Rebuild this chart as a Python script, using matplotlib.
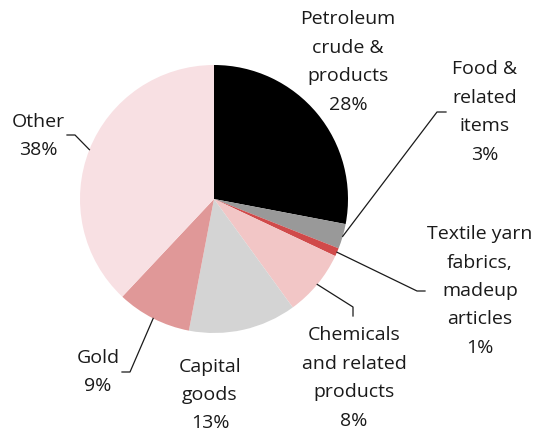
import numpy as np
import matplotlib.pyplot as plt

plt.rcParams['font.family'] = ['Open Sans', 'DejaVu Sans']

labels = ['Petroleum\ncrude &\nproducts\n28%', 'Food &\nrelated\nitems\n3%',
          'Textile yarn\nfabrics,\nmadeup\narticles\n1%',
          'Chemicals\nand related\nproducts\n8%', 'Capital\ngoods\n13%',
          'Gold\n9%', 'Other\n38%']
shares = [28, 3, 1, 8, 13, 9, 38]
colors = ['#000000', '#999999', '#d04a4a', '#f2c6c6', '#d4d4d4', '#e09898', '#f8e0e3']

W, H = 543, 436
cx, cy, r = 214, H - 199, 134

fig = plt.figure(figsize=(W / 100, H / 100), dpi=100)
ax = fig.add_axes([0, 0, 1, 1])

ax.pie(shares, colors=colors, startangle=90, counterclock=False,
       center=(cx, cy), radius=r, frame=True,
       wedgeprops=dict(linewidth=0))
ax.set_xlim(0, W)
ax.set_ylim(0, H)
ax.set_aspect('equal')
ax.axis('off')

# label centres (x, y in pixels from top) and leader elbows
label_pos = [(348, 62), (485, 112), (480, 291), (354, 378), (210, 395), (98, 372), (38, 136)]
elbows = {1: [(437, 112), (446, 112)],
          2: [(417, 291), (425, 291)],
          3: [(353, 307), (353, 316)],
          5: [(130, 372), (122, 372)],
          6: [(75, 135), (67, 135)]}

cum = np.cumsum([0] + shares)
for i, lab in enumerate(labels):
    x, y = label_pos[i]
    ax.text(x, H - y, lab, ha='center', va='center', fontsize=14,
            linespacing=1.75, color='#1a1a1a')
    if i in elbows:
        mid = np.deg2rad(90 - 3.6 * (cum[i] + shares[i] / 2))
        pts = [(cx + r * np.cos(mid), cy + r * np.sin(mid))]
        pts += [(px, H - py) for px, py in elbows[i]]
        xs, ys = zip(*pts)
        ax.plot(xs, ys, color='#1a1a1a', lw=0.9)

fig.savefig('out.png', dpi=100)
